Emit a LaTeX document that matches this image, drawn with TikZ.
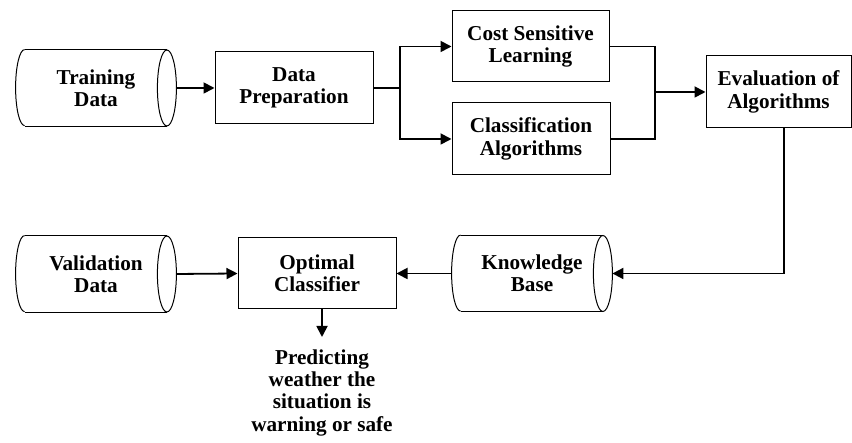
\documentclass[tikz,border=0pt]{standalone}
\usepackage{fontspec}
\setmainfont{Liberation Serif}
\usetikzlibrary{arrows.meta}

\begin{document}
\begin{tikzpicture}[x=0.5pt,y=0.5pt,
  txt/.style={font=\bfseries\fontsize{10.6}{11.2}\selectfont, align=center},
  procbox/.style={txt, draw, line width=0.5pt, inner sep=0pt, minimum height=36pt},
  store/.style={txt, inner sep=0pt, minimum width=80pt, minimum height=38pt},
  link/.style={line width=0.9pt},
  arr/.style={link, -{Triangle[length=5.5pt,width=5.5pt]}}]

\useasboundingbox[fill=white] (0,0) rectangle (852,443);

% data stores
\node[store] (td) at (96,355) {Training\\Data};
\node[store] (vd) at (96,169) {Validation\\Data};
\node[store] (kb) at (532,169.5) {Knowledge\\Base};

% processing steps
\node[procbox, minimum width=79pt] (dp) at (294,355) {Data\\Preparation};
\node[procbox, minimum width=78.5pt, minimum height=35.5pt] (cs) at (530.5,396.5) {Cost Sensitive\\Learning};
\node[procbox, minimum width=79pt] (ca) at (531,304) {Classification\\Algorithms};
\node[procbox, minimum width=72.5pt] (ev) at (778.5,351) {Evaluation of\\Algorithms};
\node[procbox, minimum width=79pt, minimum height=35.5pt] (opt) at (317,169.5) {Optimal\\Classifier};
\node[txt, anchor=north, inner sep=6pt] (pred) at (322,106) {Predicting\\weather the\\situation is\\warning or safe};

% cylinder outlines
\foreach \n in {td,vd,kb}{
  \draw[line width=0.5pt] ([xshift=4.5pt]\n.north west) -- ([xshift=-4.75pt]\n.north east);
  \draw[line width=0.5pt] ([xshift=4.5pt]\n.south west) -- ([xshift=-4.75pt]\n.south east);
  \draw[line width=0.5pt] ([xshift=4.5pt]\n.north west) arc[start angle=90, end angle=270, x radius=4.5pt, y radius=19pt];
  \draw[line width=0.5pt] ([xshift=-4.75pt]\n.east) ellipse[x radius=4.75pt, y radius=19pt];
}

% connectors
\coordinate (split) at (400,355);
\coordinate (merge) at (655,351);
\draw[arr] (td.east) -- (dp.west);
\draw[link] (dp.east) -- (split);
\draw[arr] (split) |- (cs.west);
\draw[arr] (split) |- (ca.west);
\draw[link] (cs.east) -| (merge);
\draw[link] (ca.east) -| (merge);
\draw[arr] (merge) -- (ev.west);
\draw[arr] ([xshift=2.75pt]ev.south) |- (kb.east);
\draw[arr] (kb.west) -- (opt.east);
\draw[arr] (vd.east) -- (opt.west);
\draw[arr] (opt.south -| pred.north) -- (pred.north);
\end{tikzpicture}
\end{document}
